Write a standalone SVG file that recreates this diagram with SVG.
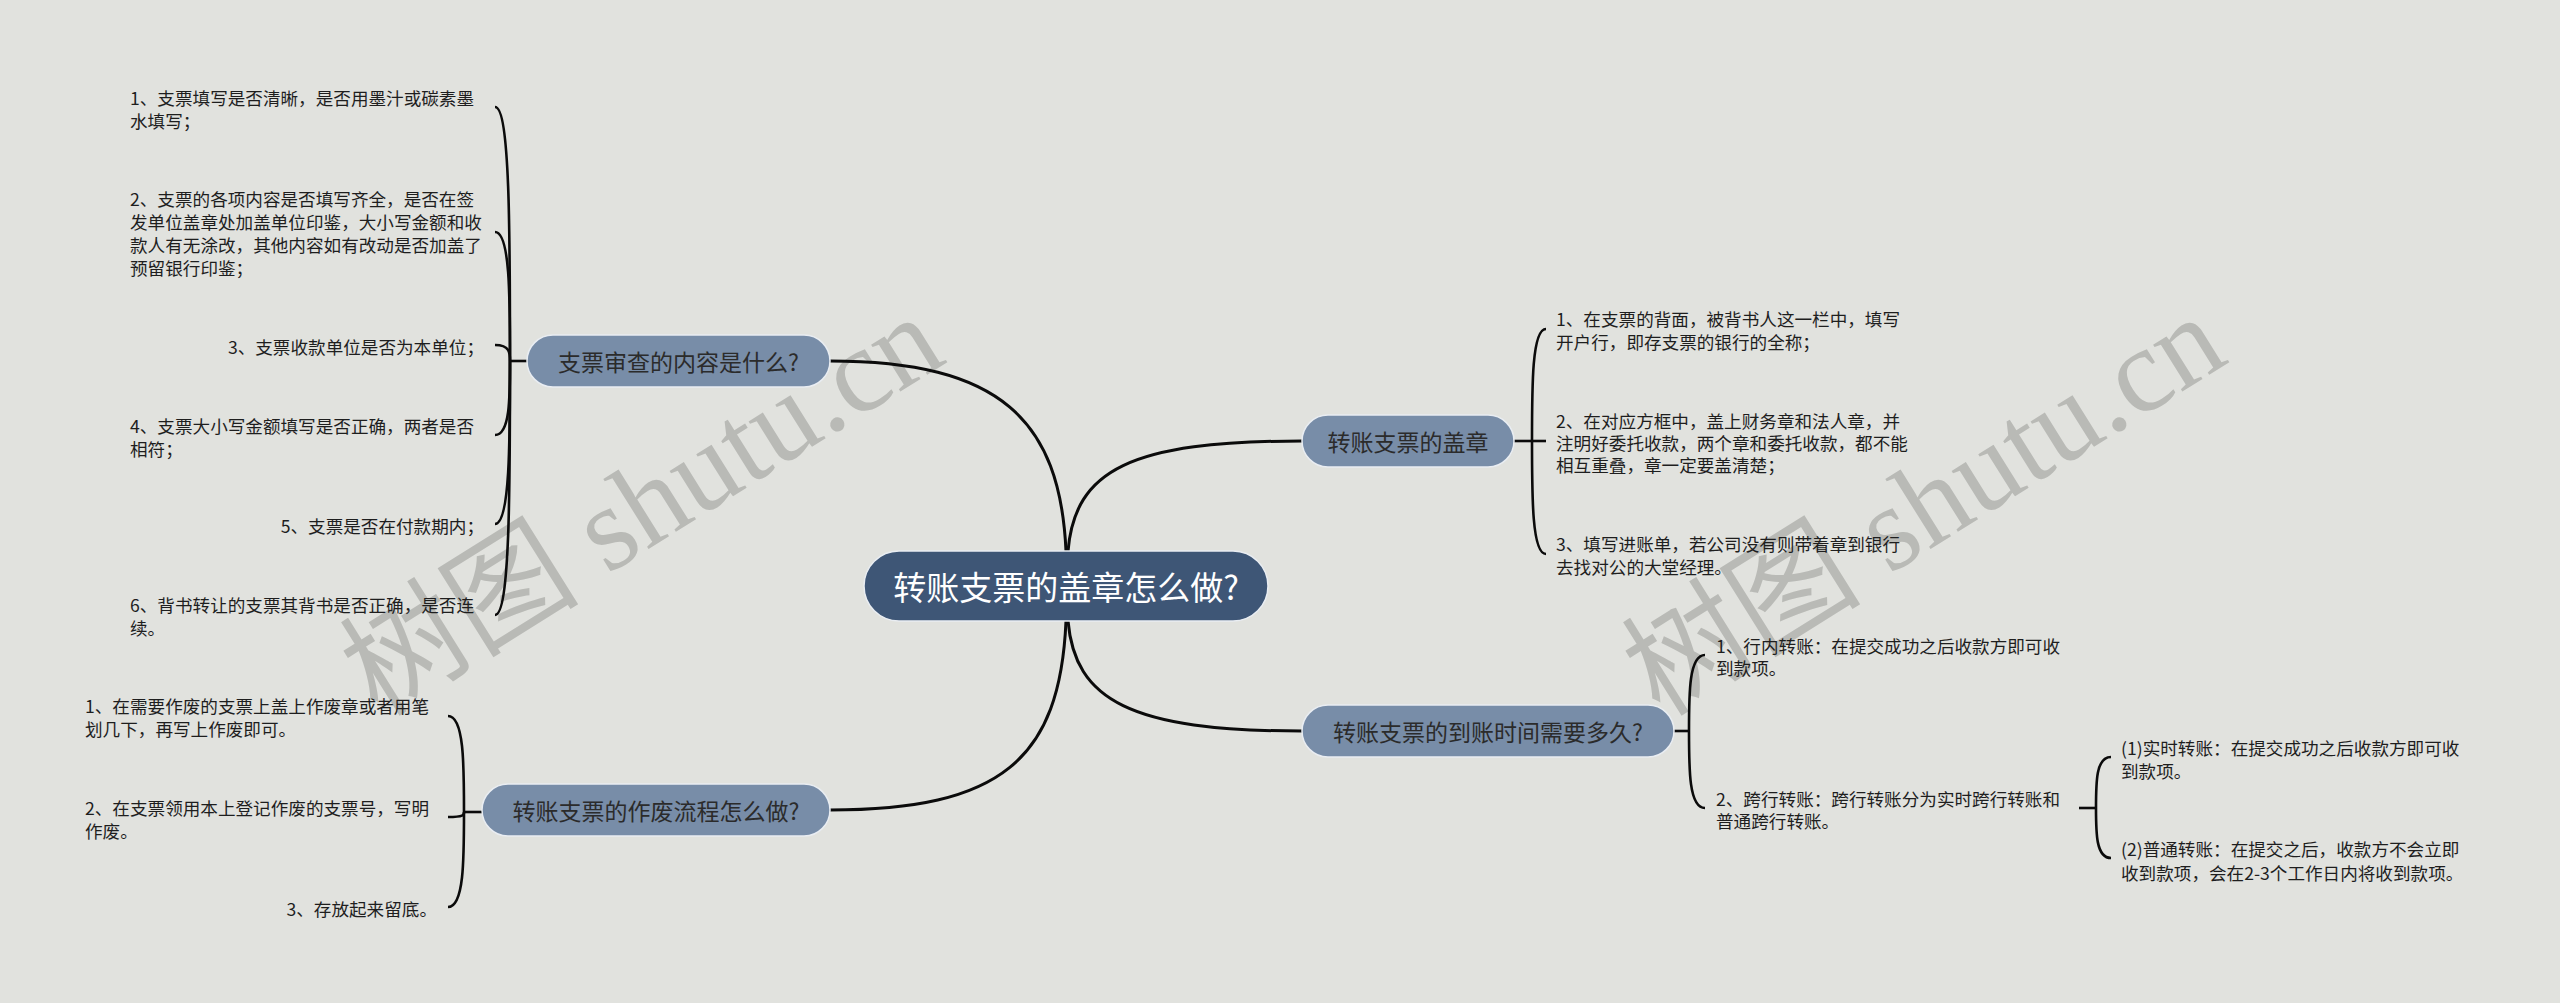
<svg xmlns="http://www.w3.org/2000/svg" width="2560" height="1003" viewBox="0 0 2560 1003">
<style>
.bg{fill:#e1e2de}
.wm{font-family:"Liberation Serif","Noto Sans CJK SC",serif;font-size:120px;fill:#b9bab6}
.root rect{fill:#3e5676;stroke:#e9edf2;stroke-width:1.5}
.root text{font-family:"Noto Sans CJK SC","Noto Sans",sans-serif;font-size:33px;fill:#ffffff;text-anchor:middle;dominant-baseline:central}
.topic rect{fill:#788da8;stroke:#e9edf2;stroke-width:1.5}
.topic text{font-family:"Noto Sans CJK SC","Noto Sans",sans-serif;font-size:23px;fill:#2b2b2b;text-anchor:middle;dominant-baseline:central}
.leaf text{font-family:"Noto Sans CJK SC","Noto Sans",sans-serif;font-size:17.6px;fill:#1e1e1e;dominant-baseline:central}
.end{text-anchor:end}
.main{fill:none;stroke:#0b0b0b;stroke-width:3}
.br{fill:none;stroke:#0b0b0b;stroke-width:2.6}
</style>
<rect class="bg" x="0" y="0" width="2560" height="1003"/>
<g id="watermark">
<text class="wm" transform="translate(378,718) rotate(-32)">树图 shutu.cn</text>
<text class="wm" transform="translate(1660,718) rotate(-32)">树图 shutu.cn</text>
</g>
<g id="connectors">
<path class="main" d="M1066,551 C1060,420 1000,361 830,361"/>
<path class="main" d="M1066,621 C1060,760 1000,810 830,810"/>
<path class="main" d="M1068,551 C1075,470 1130,441 1302,441"/>
<path class="main" d="M1068,621 C1075,700 1130,731 1302,731"/>
<path class="br" d="M527,361 L510,361"/>
<path class="br" d="M510,361 C510,234 510,107 495,107"/>
<path class="br" d="M510,361 C510,296 510,232 495,232"/>
<path class="br" d="M510,361 C510,353 510,345 495,345"/>
<path class="br" d="M510,361 C510,398 510,435 495,435"/>
<path class="br" d="M510,361 C510,442 510,524 495,524"/>
<path class="br" d="M510,361 C510,488 510,615 495,615"/>
<path class="br" d="M482,812 L464,812"/>
<path class="br" d="M464,812 C464,764 464,716 448,716"/>
<path class="br" d="M464,812 C464,815 464,817 448,817"/>
<path class="br" d="M464,812 C464,860 464,907 448,907"/>
<path class="br" d="M1514,441 L1546,441"/>
<path class="br" d="M1532,441 C1532,385 1532,329 1546,329"/>
<path class="br" d="M1532,441 C1532,497 1532,554 1546,554"/>
<path class="br" d="M1674,731 L1689,731"/>
<path class="br" d="M1689,731 C1689,693 1689,655 1705,655"/>
<path class="br" d="M1689,731 C1689,770 1689,808 1705,808"/>
<path class="br" d="M2079,808 L2096,808"/>
<path class="br" d="M2096,808 C2096,782 2096,757 2111,757"/>
<path class="br" d="M2096,808 C2096,833 2096,858 2111,858"/>
</g>
<g id="root" class="root">
<rect x="864" y="551" width="404" height="70" rx="35"/>
<text x="1066" y="586">转账支票的盖章怎么做?</text>
</g>
<g id="topic1" class="topic">
<rect x="527" y="335" width="303" height="52" rx="26"/>
<text x="678.5" y="361">支票审查的内容是什么?</text>
</g>
<g id="topic2" class="topic">
<rect x="482" y="784" width="348" height="52" rx="26"/>
<text x="656" y="810">转账支票的作废流程怎么做?</text>
</g>
<g id="topic3" class="topic">
<rect x="1302" y="415" width="212" height="52" rx="26"/>
<text x="1408" y="441">转账支票的盖章</text>
</g>
<g id="topic4" class="topic">
<rect x="1302" y="705" width="372" height="52" rx="26"/>
<text x="1488" y="731">转账支票的到账时间需要多久?</text>
</g>
<g id="leaf1-1" class="leaf"><text x="130" y="97">1、支票填写是否清晰，是否用墨汁或碳素墨</text><text x="130" y="120">水填写；</text></g>
<g id="leaf1-2" class="leaf"><text x="130" y="198">2、支票的各项内容是否填写齐全，是否在签</text><text x="130" y="221">发单位盖章处加盖单位印鉴，大小写金额和收</text><text x="130" y="244">款人有无涂改，其他内容如有改动是否加盖了</text><text x="130" y="267">预留银行印鉴；</text></g>
<g id="leaf1-3" class="leaf"><text class="end" x="484" y="346">3、支票收款单位是否为本单位；</text></g>
<g id="leaf1-4" class="leaf"><text x="130" y="425">4、支票大小写金额填写是否正确，两者是否</text><text x="130" y="448">相符；</text></g>
<g id="leaf1-5" class="leaf"><text class="end" x="484" y="525">5、支票是否在付款期内；</text></g>
<g id="leaf1-6" class="leaf"><text x="130" y="604">6、背书转让的支票其背书是否正确，是否连</text><text x="130" y="627">续。</text></g>
<g id="leaf2-1" class="leaf"><text x="85" y="705">1、在需要作废的支票上盖上作废章或者用笔</text><text x="85" y="728">划几下，再写上作废即可。</text></g>
<g id="leaf2-2" class="leaf"><text x="85" y="807">2、在支票领用本上登记作废的支票号，写明</text><text x="85" y="830">作废。</text></g>
<g id="leaf2-3" class="leaf"><text class="end" x="437" y="908">3、存放起来留底。</text></g>
<g id="leaf3-1" class="leaf"><text x="1556" y="318">1、在支票的背面，被背书人这一栏中，填写</text><text x="1556" y="341">开户行，即存支票的银行的全称；</text></g>
<g id="leaf3-2" class="leaf"><text x="1556" y="420">2、在对应方框中，盖上财务章和法人章，并</text><text x="1556" y="442">注明好委托收款，两个章和委托收款，都不能</text><text x="1556" y="464">相互重叠，章一定要盖清楚；</text></g>
<g id="leaf3-3" class="leaf"><text x="1556" y="543">3、填写进账单，若公司没有则带着章到银行</text><text x="1556" y="566">去找对公的大堂经理。</text></g>
<g id="leaf4-1" class="leaf"><text x="1716" y="645">1、行内转账：在提交成功之后收款方即可收</text><text x="1716" y="667">到款项。</text></g>
<g id="leaf4-2" class="leaf"><text x="1716" y="798">2、跨行转账：跨行转账分为实时跨行转账和</text><text x="1716" y="820">普通跨行转账。</text></g>
<g id="leaf4-2-1" class="leaf"><text x="2121" y="747">(1)实时转账：在提交成功之后收款方即可收</text><text x="2121" y="770">到款项。</text></g>
<g id="leaf4-2-2" class="leaf"><text x="2121" y="848">(2)普通转账：在提交之后，收款方不会立即</text><text x="2121" y="872">收到款项，会在2-3个工作日内将收到款项。</text></g>
</svg>
